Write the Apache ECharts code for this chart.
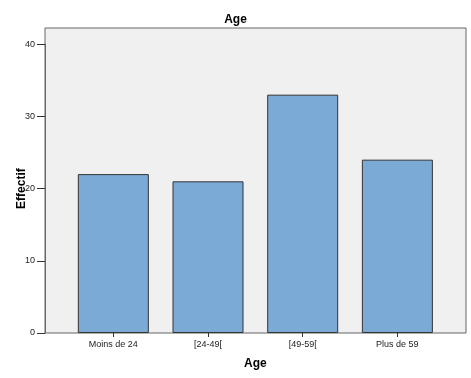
<!DOCTYPE html>
<html>
<head>
<meta charset="utf-8">
<script src="https://cdn.jsdelivr.net/npm/echarts@6/dist/echarts.min.js"></script>
<style>
  html, body { margin: 0; padding: 0; background: #fff; }
  #chart { width: 471px; height: 378px; }
</style>
</head>
<body>
<div id="chart"></div>
<script>
// data
const categories = ['Moins de 24', '[24-49[', '[49-59[', 'Plus de 59'];
const effectif = [22, 21, 33, 24];
const yMax = 40;

const font = '"Liberation Sans", Arial, sans-serif';
const chart = echarts.init(document.getElementById('chart'), null, { renderer: 'canvas' });

const option = {
  animation: false,
  textStyle: { fontFamily: font },
  title: {
    text: 'Age',
    left: 'center',
    top: 9,
    textStyle: { fontSize: 12, fontWeight: 'bold', color: '#000', fontFamily: font }
  },
  grid: [
    // frame + background
    { left: 45, top: 28, width: 421, height: 305, outerBoundsMode: 'none', show: true, backgroundColor: '#f0f0f0', borderColor: '#666', borderWidth: 1 },
    // y axis scale (0..40), under the frame top
    { left: 45, top: 44.1, width: 421, height: 288.9, outerBoundsMode: 'none' },
    // bars sit a bit inward from the frame
    { left: 66, top: 44.1, width: 378.7, height: 288.9, outerBoundsMode: 'none' }
  ],
  xAxis: [
    { type: 'category', gridIndex: 0, data: categories, show: false },
    { type: 'category', gridIndex: 1, data: categories, show: false },
    {
      type: 'category',
      gridIndex: 2,
      data: categories,
      axisLine: { show: false },
      axisTick: { show: true, alignWithLabel: true, length: 4, lineStyle: { color: '#333' } },
      axisLabel: { fontSize: 9, color: '#222', margin: 7, fontFamily: font },
      name: 'Age',
      nameLocation: 'middle',
      nameGap: 25,
      nameMoveOverlap: false,
      nameTextStyle: { fontSize: 12, fontWeight: 'bold', color: '#000', fontFamily: font }
    }
  ],
  yAxis: [
    { type: 'value', gridIndex: 0, show: false },
    {
      type: 'value',
      gridIndex: 1,
      min: 0,
      max: yMax,
      interval: 10,
      axisLine: { show: true, onZero: false, lineStyle: { color: '#666' } },
      axisTick: { show: true, length: 8, lineStyle: { color: '#333' } },
      axisLabel: { fontSize: 9, color: '#222', margin: 10, fontFamily: font },
      splitLine: { show: false },
      name: 'Effectif',
      nameLocation: 'middle',
      nameGap: 17,
      nameMoveOverlap: false,
      nameRotate: 90,
      nameTextStyle: { fontSize: 12, fontWeight: 'bold', color: '#000', fontFamily: font }
    },
    { type: 'value', gridIndex: 2, min: 0, max: yMax, interval: 10, show: false }
  ],
  series: [{
    type: 'bar',
    xAxisIndex: 2,
    yAxisIndex: 2,
    data: effectif,
    barWidth: 71,
    itemStyle: { color: '#7baad7', borderColor: '#333', borderWidth: 1 }
  }]
};

chart.setOption(option);
</script>
</body>
</html>
